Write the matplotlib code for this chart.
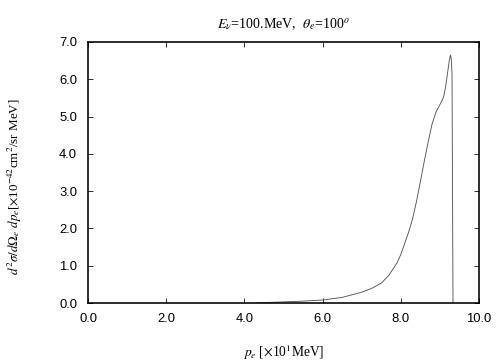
import matplotlib.pyplot as plt

# momento del electron [x10 MeV] y seccion eficaz [x10^-42 cm^2/sr MeV]
p_e = [4.3, 4.5, 5.0, 5.5, 6.0, 6.5, 7.0, 7.25, 7.5, 7.7, 7.9, 8.0, 8.1, 8.2,
       8.3, 8.4, 8.5, 8.6, 8.7, 8.8, 8.9, 9.0, 9.05, 9.1, 9.15, 9.2, 9.24,
       9.27, 9.29, 9.31, 9.335]
d2sigma = [0.0, 0.01, 0.03, 0.05, 0.08, 0.15, 0.29, 0.39, 0.53, 0.75, 1.07,
           1.3, 1.6, 1.9, 2.25, 2.72, 3.25, 3.8, 4.32, 4.8, 5.12, 5.32, 5.42,
           5.55, 5.82, 6.2, 6.5, 6.65, 6.55, 6.15, 0.0]

xticks = [0, 2, 4, 6, 8, 10]
yticks = [0, 1, 2, 3, 4, 5, 6, 7]

plt.rcParams['mathtext.fontset'] = 'stix'
serif = 'Liberation Serif'

fig = plt.figure(figsize=(7, 5), dpi=72)
ax = fig.add_axes([88/504, 1 - 303/360, (479-88)/504, (303-42)/360])

ax.plot(p_e, d2sigma, color='#555555', lw=0.9)

ax.set_xlim(0, 10)
ax.set_ylim(0, 7)
ax.set_xticks(xticks)
ax.set_yticks(yticks)
ax.set_xticklabels([f"{v:.1f}" for v in xticks], family='Liberation Sans', fontsize=13)
ax.set_yticklabels([f"{v:.1f}" for v in yticks], family='Liberation Sans', fontsize=13)
ax.tick_params(direction='in', top=True, right=True, length=5, width=0.8)
ax.tick_params(axis='x', pad=10)
ax.tick_params(axis='y', pad=11)
for s in ax.spines.values():
    s.set_linewidth(1.6)

ax.set_title(r"$E_\nu$=100.MeV,  $\theta_e$=100$^o$", family=serif, fontsize=14, pad=14)
ax.set_xlabel(r"$p_e$ [$\times$10$^1$MeV]", family=serif, fontsize=13.5)
ax.xaxis.set_label_coords(0.5, -39/261)
ax.set_ylabel(r"$d^2\sigma/d\Omega_e\ dp_e$[$\times$10$^{-42}$cm$^2$/sr MeV]",
              family=serif, fontsize=13)
ax.yaxis.set_label_coords(-64/391, 0.444)

fig.savefig("out.png", dpi=72)
